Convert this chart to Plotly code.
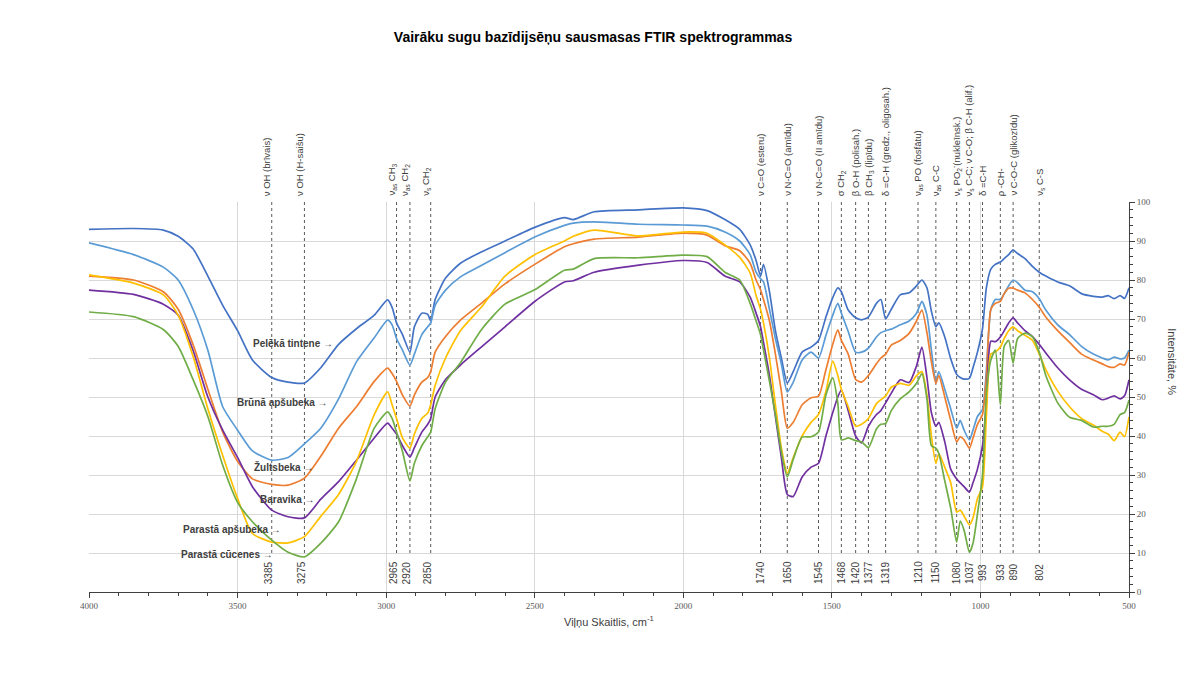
import plotly.graph_objects as go

# ---------------- data ----------------
wavenumber = [4000, 3850, 3750, 3700, 3650, 3600, 3550, 3500, 3450, 3385,
              3330, 3275, 3220, 3160, 3100, 3040, 2995, 2980, 2965, 2945,
              2920, 2905, 2880, 2860, 2850, 2835, 2800, 2750, 2680, 2600,
              2500, 2400, 2370, 2300, 2150, 2000, 1920, 1860, 1810, 1775,
              1755, 1740, 1730, 1710, 1690, 1670, 1650, 1630, 1600, 1570,
              1545, 1520, 1497, 1480, 1468, 1445, 1420, 1400, 1377, 1350,
              1335, 1319, 1300, 1270, 1240, 1215, 1197, 1180, 1165, 1150,
              1140, 1120, 1100, 1080, 1068, 1055, 1037, 1025, 1010, 993,
              980, 965, 950, 933, 920, 905, 890, 875, 850, 825,
              802, 780, 740, 700, 660, 620, 590, 570, 550, 530,
              515, 500]

pelekа_tintene = [93, 93.2, 92.8, 91.2, 88, 81, 73.5, 67, 59.5, 55,
                  53.8, 53.6, 57.5, 63.5, 67.5, 71, 74.9, 73, 69, 66,
                  61.5, 68, 71.5, 71.2, 69.5, 75, 80.5, 84.3, 87.2, 90,
                  93.5, 96, 95.5, 97.5, 98, 98.5, 97.8, 95.5, 93, 89,
                  85, 81, 84, 77, 67, 60, 53.6, 56.5, 61.5, 62.8,
                  64.5, 70.5, 75.5, 78, 77, 72.3, 70.3, 69.8, 70.5, 74,
                  75, 70, 72.5, 76.2, 76.7, 78.5, 80, 78, 72, 68,
                  69, 65.4, 59.8, 55.8, 55, 54.6, 54.8, 57.5, 61.5, 67.5,
                  78, 82.8, 84, 84.6, 85.5, 86.5, 87.7, 86.8, 85.5, 83.5,
                  82, 81, 79.5, 78.5, 76.5, 75.8, 75.6, 76, 75.2, 76,
                  75.3, 78]

bruna_apsubeka = [89.5, 86.5, 83.3, 80, 72.5, 62, 47.5, 41.5, 36.2, 33.8,
                  34.5, 38, 42, 49.5, 59, 65.2, 69.7, 68.5, 65, 62,
                  58.2, 61, 66, 68, 69, 73.5, 77.4, 80.8, 83.7, 87,
                  91, 94, 94.6, 94.9, 94.3, 94.1, 93.8, 92.3, 90, 86.5,
                  82, 80.3, 79.5, 72.5, 65, 58.5, 51.3, 53.8, 59.5, 61.5,
                  60, 65.8, 71, 74, 71.5, 66.8, 61.5, 61.5, 62.5, 65.4,
                  66.5, 67, 67.4, 68.5, 69.5, 71.5, 74.5, 71, 62, 54,
                  56.5, 52, 47, 42, 44, 41.5, 39, 41.5, 45, 46.8,
                  57, 72.5, 75, 75, 76.5, 78.5, 80, 79.3, 77.4, 77,
                  75.2, 72.3, 68.5, 66, 63, 61, 60, 59.5, 60.2, 59.8,
                  60, 62]

zultsbeka = [81, 80, 77, 72.5, 63.5, 52, 41, 33.5, 29, 27.6,
             27.4, 29.2, 34.8, 42, 47.5, 54, 57.4, 56, 54, 50.5,
             47.7, 50.5, 53.8, 55, 56.5, 61.5, 65.5, 69.7, 74, 79,
             84, 88.5, 89.3, 90.5, 91, 92, 91.5, 88.8, 87.5, 84.3,
             80, 77.5, 75, 69.5, 61, 51.5, 42, 43.5, 48, 49.8,
             50.2, 57, 63.5, 67.2, 64.5, 61, 54.5, 53.8, 55.5, 58.5,
             60, 61, 63.3, 64.5, 66.3, 69.5, 72.3, 66.5, 59, 53.5,
             55.5, 50, 44, 38.5, 39.8, 39, 36.9, 39.5, 43, 45.5,
             55, 72.5, 74, 74.5, 76.5, 77.9, 77.9, 77.4, 76.7, 75,
             73, 70.5, 67, 64, 61, 59.5, 58.5, 57.8, 57.6, 58.5,
             58.2, 61.5]

baravika = [77.4, 76.3, 73.8, 71, 62, 50, 41.5, 34.5, 27, 21,
            19.3, 19, 23.8, 28.3, 33.8, 39.5, 43.3, 42, 40.5, 37.5,
            34.6, 37, 41, 43, 44.5, 50, 54.5, 58.2, 62.8, 68,
            74.5, 79.5, 79.8, 82, 83.8, 85, 84.5, 81, 79.5, 75.6,
            71.5, 68, 64, 55.5, 45, 34.5, 25, 24.5, 29.5, 32,
            33, 40, 46, 50, 51.8, 46.5, 40, 38.2, 42.5, 45.5,
            46.5, 48.5, 51, 54.4, 53.7, 58, 62.8, 55, 46, 42.5,
            43.5, 38.5, 31.5, 29, 28, 27, 25.6, 28, 31.5, 37.5,
            48.5, 64.3, 64.2, 65.4, 67, 69, 70.3, 69, 67, 65.5,
            63.5, 61.3, 57.5, 54.4, 52, 50.6, 49.3, 49.7, 50.3, 49.5,
            50.3, 54.4]

parasta_apsubeka = [81.3, 79.2, 76.2, 71, 60.5, 47, 35, 24, 15, 12.8,
                    12.6, 14.2, 19.4, 25, 33.5, 45.5, 51.3, 48, 44.5, 39.5,
                    36.9, 40.5, 44.5, 45.9, 48, 53, 60, 67, 73, 81,
                    86.5, 90, 91.2, 92.8, 91.3, 92.3, 92, 89, 85.8, 81.8,
                    76, 72.5, 69, 60, 48, 37, 30.5, 34.5, 40, 43.5,
                    45.5, 51.5, 59.2, 55.5, 52, 47.5, 42.5, 43, 44.5, 48.3,
                    49.3, 50.3, 52.5, 53.5, 53, 55.5, 56.5, 50.5, 40, 33,
                    35.5, 32, 28, 20.5, 21, 19.5, 17.2, 19, 24, 27,
                    45, 61, 61.5, 62.8, 65, 67, 68, 67, 65.8, 64.5,
                    61, 57, 51.5, 47.5, 44.5, 42.8, 41.2, 40.5, 38.8, 41,
                    39.8, 44.9]

parasta_cucenes = [71.8, 70.6, 67.3, 63, 54.5, 45, 32.5, 23, 18, 13.3,
                   10.2, 9, 12.5, 18, 29, 42, 46.2, 44.5, 41, 36,
                   28.5, 33, 37.5, 39.8, 41, 47, 53.8, 58.8, 67.2, 73.8,
                   77.5, 82.5, 82.8, 85.5, 85.7, 86.4, 86, 82, 80, 74,
                   69.5, 66, 62, 54, 45.5, 36, 29.5, 34, 39.7, 39.8,
                   41, 50.5, 54.9, 48.5, 39, 39.5, 38.8, 38.5, 37, 41.8,
                   43, 43.2, 46.5, 49.5, 51.3, 53.5, 56, 49.5, 37.5, 36.9,
                   35.5, 28.5, 21.5, 12.8, 18.2, 15.8, 10.2, 12.5, 20, 30,
                   51, 59.5, 62, 48, 63, 64.5, 58.7, 65, 66.4, 65.5,
                   61.5, 55.5, 48.5, 44.8, 44, 42.3, 42.5, 42.5, 43, 45.5,
                   46, 49.2]

series_names = ["Pelēkā tintene", "Brūnā apšubeka", "Žultsbeka",
                "Baravika", "Parastā apšubeka", "Parastā cūcenes"]
series_values = [pelekа_tintene, bruna_apsubeka, zultsbeka,
                 baravika, parasta_apsubeka, parasta_cucenes]
series_colors = ["#4472C4", "#5B9BD5", "#ED7D31", "#7030A0", "#FFC000", "#70AD47"]

# curve labels: wavenumber at right end of text, intensity
label_wn = [3172, 3189, 3239, 3236, 3347, 3374]
label_y = [63.6, 48.7, 32.0, 23.8, 15.9, 9.7]

# band markers
band_wn = [3385, 3275, 2965, 2920, 2850, 1740, 1650, 1545, 1468, 1420,
           1377, 1319, 1210, 1150, 1080, 1037, 993, 933, 890, 802]
band_labels = ["ν OH (brīvais)", "ν OH (H-saišu)",
               "ν<sub>as</sub> CH<sub>3</sub>", "ν<sub>as</sub> CH<sub>2</sub>",
               "ν<sub>s</sub> CH<sub>2</sub>",
               "ν C=O (esteru)", "ν N-C=O (amīdu)", "ν N-C=O (II amīdu)",
               "σ CH<sub>2</sub>", "β O-H (polisah.)", "β CH<sub>3</sub> (lipīdu)",
               "δ =C-H (gredz., oligosah.)", "ν<sub>as</sub> PO (fosfātu)",
               "ν<sub>as</sub> C-C", "ν<sub>s</sub> PO<sub>2</sub><sup>-</sup>(nukleīnsk.)",
               "ν<sub>s</sub> C-C; ν C-O; β C-H (alif.)", "δ =C-H", "ρ -CH-",
               "ν C-O-C (glikozīdu)", "ν<sub>s</sub> C-S"]
band_numbers = [str(w) for w in band_wn]

# ---------------- figure ----------------
fig = go.Figure()

for name, vals, col in zip(series_names, series_values, series_colors):
    fig.add_trace(go.Scatter(
        x=wavenumber, y=vals, mode="lines", name=name,
        line=dict(color=col, width=1.7, shape="spline", smoothing=0.6),
        showlegend=False, hoverinfo="x+y+name"))

annotations = []
shapes = []
for i, (wn, lab, num) in enumerate(zip(band_wn, band_labels, band_numbers)):
    shift = -5 if wn > 2800 else 0
    shapes.append(dict(type="line", xref="x", yref="y", x0=wn, x1=wn, y0=10, y1=100,
                       line=dict(color="#595959", width=1, dash="dot"), layer="between"))
    annotations.append(dict(x=wn, y=1, xref="x", yref="paper", text=lab,
                            textangle=-90, showarrow=False, xanchor="center",
                            yanchor="bottom", yshift=4, xshift=shift,
                            font=dict(family="Liberation Sans, Arial", size=9.5, color="#404040")))
    annotations.append(dict(x=wn, y=5, xref="x", yref="y", text=num,
                            textangle=-90, showarrow=False, xanchor="center",
                            yanchor="middle", xshift=shift // 2,
                            font=dict(family="Liberation Sans, Arial", size=10, color="#404040")))

for name, wn, yv in zip(series_names, label_wn, label_y):
    annotations.append(dict(x=wn, y=yv, xref="x", yref="y", text="<b>" + name + " →</b>",
                            showarrow=False, xanchor="right", yanchor="middle",
                            font=dict(family="Liberation Sans, Arial", size=10, color="#404040")))

annotations.append(dict(x=0.5, y=-0.074, xref="paper", yref="paper",
                        text="Viļņu Skaitlis, cm<sup>-1</sup>", showarrow=False,
                        xanchor="center", yanchor="middle",
                        font=dict(family="Liberation Sans, Arial", size=11, color="#404040")))
annotations.append(dict(x=1.041, y=0.59, xref="paper", yref="paper",
                        text="Intensitāte, %", showarrow=False, textangle=90,
                        xanchor="center", yanchor="middle",
                        font=dict(family="Liberation Sans, Arial", size=11, color="#404040")))

fig.update_layout(
    width=1170, height=666,
    margin=dict(l=81, r=49, t=194, b=82),
    paper_bgcolor="white", plot_bgcolor="white",
    title=dict(text="<b>Vairāku sugu bazīdijsēņu sausmasas FTIR spektrogrammas</b>",
               x=0.5, xanchor="center", y=1 - 29 / 666, yanchor="middle",
               font=dict(family="Liberation Sans, Arial", size=14, color="#000000")),
    annotations=annotations, shapes=shapes,
    xaxis=dict(range=[4000, 500], autorange=False, dtick=500, tick0=500,
               showgrid=True, gridcolor="#d9d9d9", gridwidth=1,
               showline=True, linecolor="#404040", linewidth=1,
               ticks="outside", ticklen=5, tickcolor="#404040",
               minor=dict(dtick=100, ticks="outside", ticklen=3, tickcolor="#404040", showgrid=False),
               tickfont=dict(family="Liberation Serif, serif", size=9, color="#595959"),
               zeroline=False, mirror=False),
    yaxis=dict(range=[0, 100], autorange=False, dtick=10, side="right",
               showgrid=True, gridcolor="#d9d9d9", gridwidth=1,
               showline=True, linecolor="#404040", linewidth=1,
               ticks="outside", ticklen=5, tickcolor="#404040",
               minor=dict(dtick=2, ticks="outside", ticklen=3, tickcolor="#404040", showgrid=False),
               tickfont=dict(family="Liberation Serif, serif", size=9, color="#595959"),
               zeroline=False),
)

fig.write_html("out.html")
